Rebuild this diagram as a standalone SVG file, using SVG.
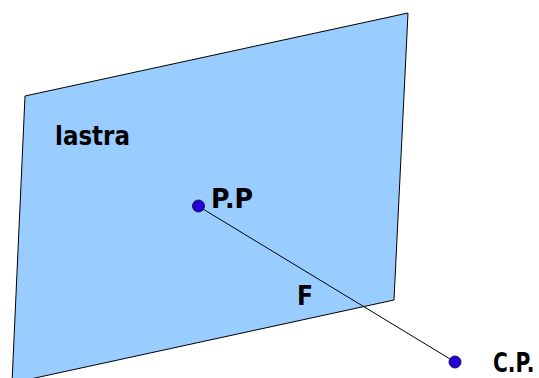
<svg xmlns="http://www.w3.org/2000/svg" width="539" height="378" viewBox="0 0 539 378">
<style>
.lbl{font-family:"DejaVu Sans","Liberation Sans",sans-serif;font-weight:700;font-size:26px;fill:#000}
.pt{fill:#2300d8;stroke:#1a1a4a;stroke-width:1}
</style>
<rect width="539" height="378" fill="#fff"/>
<g id="lastra">
<polygon points="25,96 408,13 394,300 12,383" fill="#99ccff" stroke="#000" stroke-width="1"/>
<text class="lbl" x="55" y="145" textLength="75" lengthAdjust="spacingAndGlyphs">lastra</text>
</g>
<g id="connectors">
<line x1="198" y1="206" x2="455" y2="362" stroke="#000" stroke-width="1"/>
</g>
<g id="pp">
<circle class="pt" cx="198.500" cy="206" r="6"/>
<text class="lbl" x="211" y="208" textLength="42" lengthAdjust="spacingAndGlyphs">P.P</text>
</g>
<g id="cp">
<circle class="pt" cx="455" cy="362" r="6"/>
<text class="lbl" transform="translate(493 371.500) scale(.78 1)">C.P.</text>
</g>
<g id="f">
<text class="lbl" x="297" y="305" textLength="16" lengthAdjust="spacingAndGlyphs">F</text>
</g>
</svg>
